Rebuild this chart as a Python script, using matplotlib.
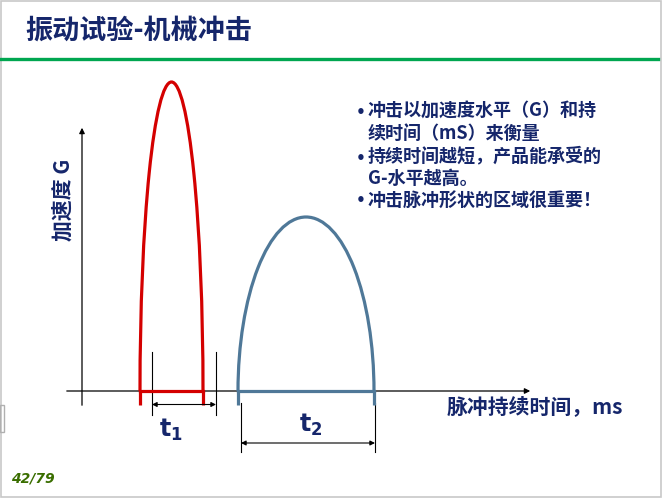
import numpy as np
import matplotlib
matplotlib.use("Agg")
import matplotlib.pyplot as plt
from matplotlib.patches import Arc, Rectangle

plt.rcParams['font.family'] = ['Noto Sans CJK SC', 'DejaVu Sans']
plt.rcParams['mathtext.default'] = 'bf'

# pulse data (arbitrary schematic units: x ~ time, y ~ acceleration)
pulse_labels = ['t_1', 't_2']
pulse_start = [5.8, 15.6]
pulse_end = [12.1, 29.2]
pulse_peak = [30.9, 17.4]
pulse_colors = ['#d40000', '#4f7898']

title = '振动试验-机械冲击'
bullets = ['冲击以加速度水平（G）和持\n续时间（mS）来衡量',
           '持续时间越短，产品能承受的\nG-水平越高。',
           '冲击脉冲形状的区域很重要！']
xlabel = '脉冲持续时间，ms'
ylabel = '加速度 G'
page = '42/79'

navy = '#15266b'
W, H = 663, 499
fig = plt.figure(figsize=(W / 100, H / 100), dpi=100)
fig.patch.set_facecolor('white')

def px(x, y):
    return x / W, 1 - y / H

# diagram axes: 10 px per unit, origin at (82, 391)
ax = fig.add_axes([0, 0, 1, 1])
ax.set_xlim(-8.2, (W - 82) / 10)
ax.set_ylim(-(H - 391) / 10, 391 / 10)
ax.axis('off')

# axes arrows
ax.annotate('', xy=(45.1, 0), xytext=(-1.8, 0),
            arrowprops=dict(arrowstyle='-|>', color='black', lw=0.9, mutation_scale=8))
ax.annotate('', xy=(0, 26.6), xytext=(0, -1.7),
            arrowprops=dict(arrowstyle='-|>', color='black', lw=0.9, mutation_scale=8))

# pulses (half-ellipse arches with legs and base bar)
for s, e, p, c in zip(pulse_start, pulse_end, pulse_peak, pulse_colors):
    ax.add_patch(Arc(((s + e) / 2, 0), e - s, 2 * p, theta1=0, theta2=180,
                     color=c, lw=2.3, zorder=3))
    ax.plot([s, s], [-1.4, 0], color=c, lw=2.3, zorder=3, solid_capstyle='butt')
    ax.plot([e, e], [-1.4, 0], color=c, lw=2.3, zorder=3, solid_capstyle='butt')
    ax.plot([s, e], [0, 0], color=c, lw=2.3, zorder=3)

# dimension marks
dims = [((7.0, 13.4), (3.9, -2.4), -1.35, (8.9, -3.9)),
        ((15.9, 29.3), (-1.2, -6.1), -5.2, (22.9, -3.4))]
for (x0, x1), (ytop, ybot), ya, (tx, ty) in dims:
    for xx in (x0, x1):
        ax.plot([xx, xx], [ybot, ytop], color='black', lw=0.8)
    ax.annotate('', xy=(x1, ya), xytext=(x0, ya),
                arrowprops=dict(arrowstyle='<|-|>', color='black', lw=0.8,
                                mutation_scale=7, shrinkA=0, shrinkB=0))
for lab, (_, _, _, (tx, ty)) in zip(pulse_labels, dims):
    ax.text(tx, ty, '$' + lab + '$', fontsize=17, color=navy,
            ha='center', va='center', family='DejaVu Sans')

# border and header line
fig.patches.append(Rectangle(px(0.5, 497), 660 / W, 496 / H, transform=fig.transFigure,
                             fill=False, ec='#c8c8c8', lw=1.2))
fig.add_artist(plt.Line2D([0, 658 / W], [1 - 58.5 / H] * 2, transform=fig.transFigure,
                          color='#00a650', lw=2.4))
fig.patches.append(Rectangle(px(0, 432), 4 / W, 27 / H, transform=fig.transFigure,
                             fill=False, ec='#b0b0b0', lw=1.0))

fig.text(*px(25, 31), title, fontsize=19.5, fontweight='bold', color=navy, va='center')

ys = [113, 158, 200]
for b, y in zip(bullets, ys):
    fig.text(*px(356, y), '•', fontsize=11, fontweight='bold', color=navy, va='center',
             family='DejaVu Sans')
    fig.text(*px(368, y - 11.5 if '\n' in b else y), b, fontsize=13, fontweight='bold',
             color=navy, va='center' if '\n' not in b else 'top', linespacing=1.25)

fig.text(*px(63, 200), ylabel, fontsize=15, fontweight='bold', color=navy,
         rotation=90, ha='center', va='center')
fig.text(*px(447, 407), xlabel, fontsize=15, fontweight='bold', color=navy, va='center')
fig.text(*px(11, 478), page, fontsize=10, fontweight='bold', style='italic',
         color='#3a6e00', va='center', family='DejaVu Sans')

fig.savefig('out.png', dpi=100, facecolor='white')
